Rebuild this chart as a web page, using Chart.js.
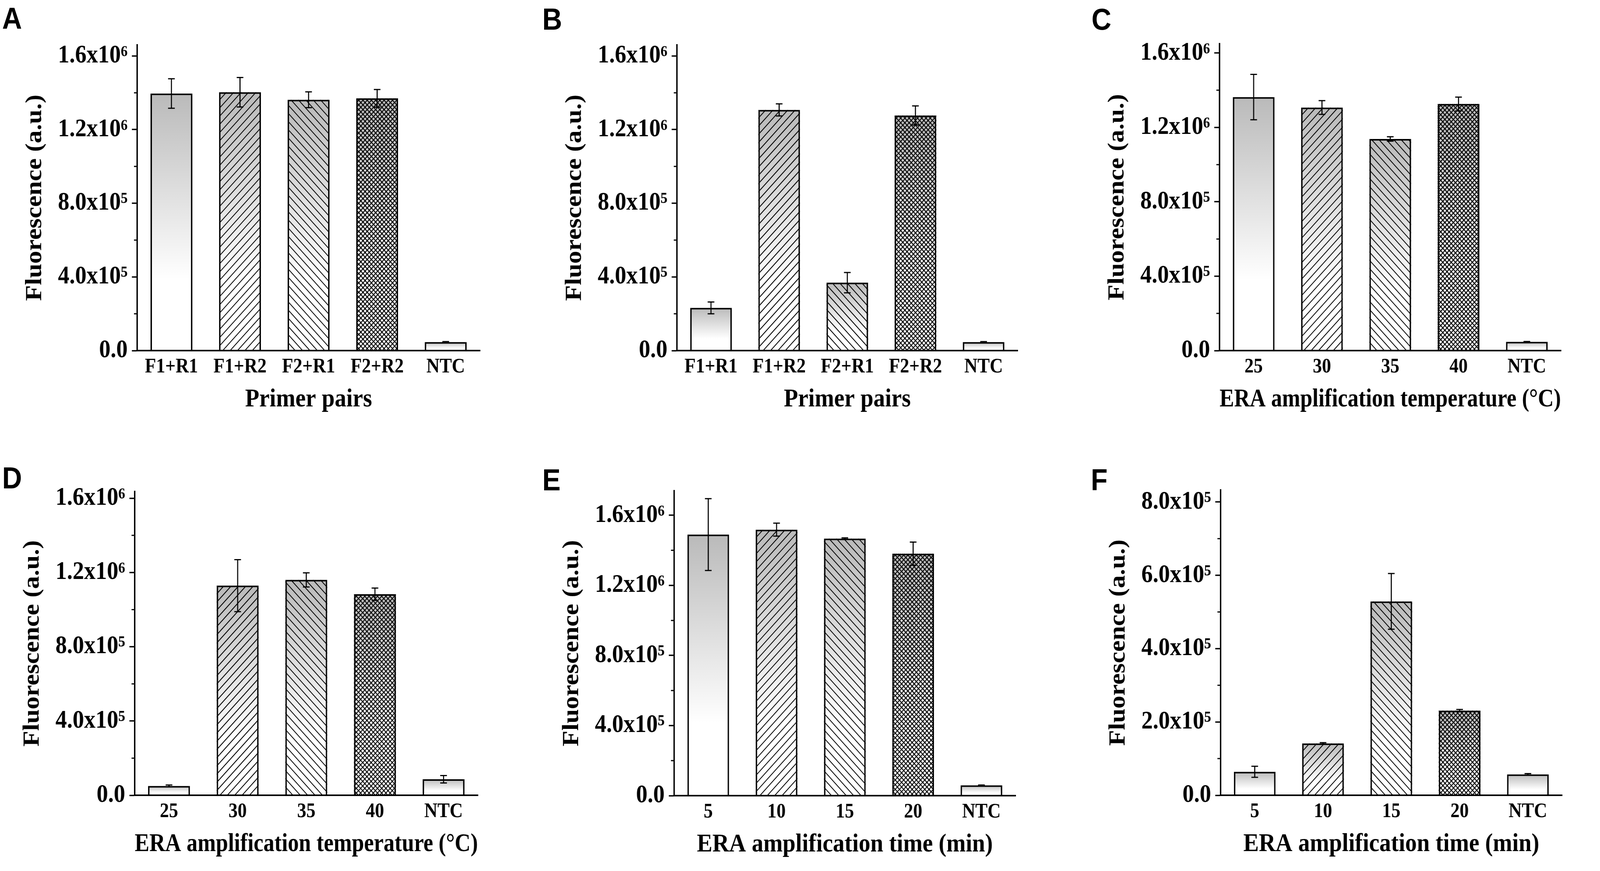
<!DOCTYPE html>
<html><head><meta charset="utf-8">
<script src="https://cdn.jsdelivr.net/npm/chart.js@4.4.1/dist/chart.umd.min.js"></script>
<style>
html,body{margin:0;padding:0;background:#fff;overflow:hidden;width:100%;height:100%;}
#stage{position:absolute;left:0;top:0;width:4550px;height:2231px;transform-origin:0 0;background:#fff;}
.panel{position:absolute;}
.letter{position:absolute;font-family:"Liberation Sans",Arial,sans-serif;font-weight:bold;font-size:78px;line-height:1;color:#000;}
</style></head><body>
<div id="stage"></div>
<script>
// ---------- data ----------
const primerPairs = ['F1+R1', 'F1+R2', 'F2+R1', 'F2+R2', 'NTC'];
const tempCategories = ['25', '30', '35', '40', 'NTC'];
const timeCategories = ['5', '10', '15', '20', 'NTC'];

const valuesA = [1396000, 1403000, 1362000, 1370000, 46000];
const errorsA = [80000, 80000, 43000, 48000, 3000];
const valuesB = [232000, 1307000, 369000, 1277000, 46000];
const errorsB = [32000, 33000, 55000, 52000, 3000];
const valuesC = [1363000, 1307000, 1138000, 1326000, 47000];
const errorsC = [122000, 37000, 12000, 37000, 2000];
const valuesD = [50000, 1129000, 1160000, 1083000, 86000];
const errorsD = [5000, 140000, 38000, 33000, 20000];
const valuesE = [1490000, 1518000, 1467000, 1381000, 59000];
const errorsE = [205000, 37000, 4000, 66000, 1500];
const valuesF = [64000, 141500, 529000, 231000, 57000];
const errorsF = [15000, 2000, 76000, 3000, 2000];

const tickValuesLarge = [0, 400000, 800000, 1200000, 1600000];
const tickLabelsLarge = ['0.0', '4.0x10\u2075', '8.0x10\u2075', '1.2x10\u2076', '1.6x10\u2076'];
const tickValuesSmall = [0, 200000, 400000, 600000, 800000];
const tickLabelsSmall = ['0.0', '2.0x10\u2075', '4.0x10\u2075', '6.0x10\u2075', '8.0x10\u2075'];

const yTitle = 'Fluorescence (a.u.)';
const xTitlePrimer = 'Primer pairs';
const xTitleTemp = 'ERA amplification temperature (\u00B0C)';
const xTitleTime = 'ERA amplification time (min)';

const barPatterns = ['none', '/', '\\', 'x', 'none'];

// ---------- fit the 4550x2231 design into the real viewport ----------
const stage = document.getElementById('stage');
(function fitStage() {
  const vw = window.innerWidth || document.documentElement.clientWidth || 4550;
  const vh = window.innerHeight || document.documentElement.clientHeight || 2231;
  let kx = vw / 4550, ky = vh / 2231;
  if (!(kx > 0.3 && kx < 3)) kx = 1;
  if (!(ky > 0.3 && ky < 3)) ky = 1;
  stage.style.transform = 'scale(' + kx + ',' + ky + ')';
})();

// ---------- layout (design pixels) ----------
const panels = [
  {letter:'A', lx:6,    ly:8,    cats:primerPairs,    vals:valuesA, errs:errorsA, ticks:tickValuesLarge, labels:tickLabelsLarge, ymax:1660000, xt:xTitlePrimer, l:390,  r:1365, t:115,  b:898,  rowTop:0,    rowBottom:1112},
  {letter:'B', lx:1542, ly:10,   cats:primerPairs,    vals:valuesB, errs:errorsB, ticks:tickValuesLarge, labels:tickLabelsLarge, ymax:1660000, xt:xTitlePrimer, l:1925, r:2894, t:115,  b:898,  rowTop:0,    rowBottom:1112},
  {letter:'C', lx:3104, ly:10,   cats:tempCategories, vals:valuesC, errs:errorsC, ticks:tickValuesLarge, labels:tickLabelsLarge, ymax:1650000, xt:xTitleTemp,   l:3468, r:4439, t:112,  b:898,  rowTop:0,    rowBottom:1112},
  {letter:'D', lx:6,    ly:1185, cats:tempCategories, vals:valuesD, errs:errorsD, ticks:tickValuesLarge, labels:tickLabelsLarge, ymax:1636000, xt:xTitleTemp,   l:383,  r:1359, t:1259, b:2037, rowTop:1115, rowBottom:2231},
  {letter:'E', lx:1542, ly:1190, cats:timeCategories, vals:valuesE, errs:errorsE, ticks:tickValuesLarge, labels:tickLabelsLarge, ymax:1740000, xt:xTitleTime,   l:1917, r:2888, t:1257, b:2038, rowTop:1115, rowBottom:2231},
  {letter:'F', lx:3102, ly:1190, cats:timeCategories, vals:valuesF, errs:errorsF, ticks:tickValuesSmall, labels:tickLabelsSmall, ymax:833000,  xt:xTitleTime,   l:3471, r:4442, t:1255, b:2037, rowTop:1115, rowBottom:2231}
];

const SERIF = '"Liberation Serif", "Times New Roman", serif';

const barFillPlugin = {
  id: 'barFill',
  beforeDatasetsDraw(chart) {
    const ctx = chart.ctx;
    const meta = chart.getDatasetMeta(0);
    meta.data.forEach((bar, i) => {
      const p = bar.getProps(['x', 'y', 'base', 'width'], true);
      const left = p.x - p.width / 2;
      const top = Math.min(p.y, p.base);
      const h = Math.abs(p.base - p.y);
      ctx.save();
      ctx.beginPath();
      ctx.rect(left, top, p.width, h);
      ctx.clip();
      const g = ctx.createLinearGradient(0, top, 0, top + h);
      g.addColorStop(0, '#bababa');
      g.addColorStop(0.72, '#ffffff');
      g.addColorStop(1, '#ffffff');
      ctx.fillStyle = g;
      ctx.fillRect(left, top, p.width, h);
      const kind = barPatterns[i];
      ctx.strokeStyle = '#000';
      ctx.lineWidth = kind === 'x' ? 2.4 : 2.2;
      const sp = kind === 'x' ? 12 : 21;
      if (kind === '/' || kind === 'x') {
        ctx.beginPath();
        for (let k = left - h - sp; k < left + p.width + sp; k += sp) {
          ctx.moveTo(k, top + h);
          ctx.lineTo(k + h, top);
        }
        ctx.stroke();
      }
      if (kind === '\\' || kind === 'x') {
        ctx.beginPath();
        for (let k = left - h - sp; k < left + p.width + sp; k += sp) {
          ctx.moveTo(k, top);
          ctx.lineTo(k + h, top + h);
        }
        ctx.stroke();
      }
      ctx.restore();
    });
  }
};

const errorBarPlugin = {
  id: 'errorBars',
  afterDatasetsDraw(chart) {
    const ctx = chart.ctx;
    const ys = chart.scales.y;
    const ds = chart.data.datasets[0];
    const meta = chart.getDatasetMeta(0);
    ctx.save();
    ctx.strokeStyle = '#000';
    ctx.lineWidth = 3;
    meta.data.forEach((bar, i) => {
      const v = ds.data[i], e = ds.errors[i];
      const x = bar.x;
      const y1 = ys.getPixelForValue(v + e);
      const y2 = ys.getPixelForValue(Math.max(0, v - e));
      const cw = 9.5;
      ctx.beginPath();
      ctx.moveTo(x, y1); ctx.lineTo(x, y2);
      ctx.moveTo(x - cw, y1); ctx.lineTo(x + cw, y1);
      ctx.moveTo(x - cw, y2); ctx.lineTo(x + cw, y2);
      ctx.stroke();
    });
    ctx.restore();
  },
  afterDraw(chart) {
    // minor ticks halfway between major ticks
    const ys = chart.scales.y;
    const majors = chart.options.plugins.errorBars.majors;
    const ctx = chart.ctx;
    ctx.save();
    ctx.strokeStyle = '#000';
    ctx.lineWidth = 3;
    ctx.beginPath();
    for (let i = 0; i < majors.length - 1; i++) {
      const m = (majors[i] + majors[i + 1]) / 2;
      const py = ys.getPixelForValue(m);
      ctx.moveTo(ys.right - 9, py);
      ctx.lineTo(ys.right, py);
    }
    ctx.stroke();
    ctx.restore();
  }
};

panels.forEach((P) => {
  const letter = document.createElement('div');
  letter.className = 'letter';
  letter.textContent = P.letter;
  letter.style.left = P.lx + 'px';
  letter.style.top = P.ly + 'px';
  stage.appendChild(letter);

  const yW = 390;
  const cLeft = P.l - yW;
  const cTop = P.rowTop;
  const cW = P.r + 40 - cLeft;
  const cH = P.rowBottom - P.rowTop;
  const xH = P.rowBottom - P.b;
  const titleY = P.b + 126;
  const pb = P.rowBottom - titleY - 66 * 1.2 / 2;

  const div = document.createElement('div');
  div.className = 'panel';
  div.style.left = cLeft + 'px';
  div.style.top = cTop + 'px';
  div.style.width = cW + 'px';
  div.style.height = cH + 'px';
  const canvas = document.createElement('canvas');
  div.appendChild(canvas);
  stage.appendChild(div);

  new Chart(canvas, {
    type: 'bar',
    data: {
      labels: P.cats,
      datasets: [{
        data: P.vals,
        errors: P.errs,
        backgroundColor: 'rgba(0,0,0,0)',
        borderColor: '#000',
        borderWidth: 4,
        borderSkipped: 'start',
        barPercentage: 0.61,
        categoryPercentage: 1.0
      }]
    },
    options: {
      responsive: true,
      maintainAspectRatio: false,
      animation: false,
      layout: { padding: { left: 0, top: P.t - P.rowTop, right: 40, bottom: 0 } },
      plugins: {
        legend: { display: false },
        tooltip: { enabled: false },
        errorBars: { majors: P.ticks }
      },
      scales: {
        x: {
          offset: true,
          afterFit: s => { s.height = xH; },
          grid: { display: false, drawTicks: false },
          border: { display: true, color: '#000', width: 4, z: 1 },
          ticks: { padding: 11, autoSkip: false, maxRotation: 0, minRotation: 0, color: '#000',
                   font: { family: SERIF, weight: 'bold', size: 52 } },
          title: { display: true, text: P.xt, color: '#000', padding: { top: 0, bottom: pb },
                   font: { family: SERIF, weight: 'bold', size: 66 } }
        },
        y: {
          min: 0,
          max: P.ymax,
          afterBuildTicks: s => { s.ticks = P.ticks.map(v => ({ value: v })); },
          afterFit: s => { s.width = yW; },
          grid: { display: true, drawOnChartArea: false, drawTicks: true, tickLength: 15,
                  tickWidth: 3.5, tickColor: '#000' },
          border: { display: true, color: '#000', width: 4, z: 1 },
          ticks: { padding: 12, color: '#000', autoSkip: false,
                   font: { family: SERIF, weight: 'bold', size: 65 },
                   callback: (v, i) => P.labels[i] },
          title: { display: true, text: yTitle, color: '#000', padding: { top: 60, bottom: 0 },
                   font: { family: SERIF, weight: 'bold', size: 66 } }
        }
      }
    },
    plugins: [barFillPlugin, errorBarPlugin]
  });
});
</script>
</body></html>
